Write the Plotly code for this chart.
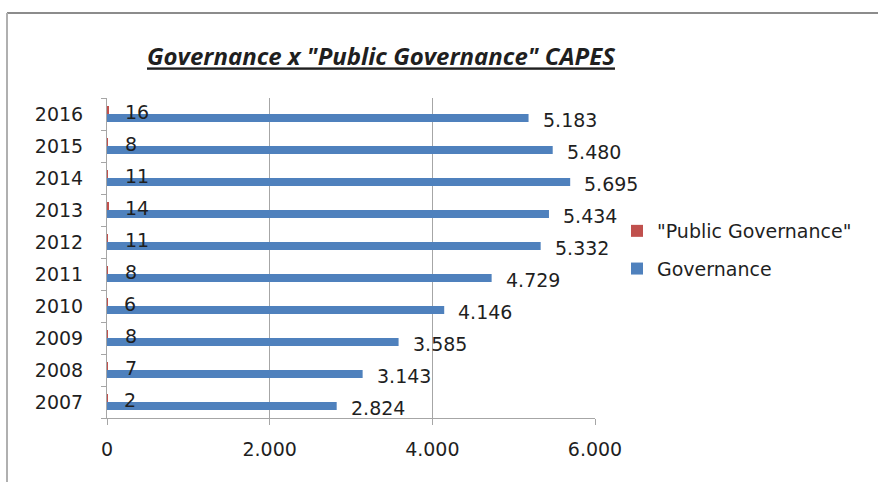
import plotly.graph_objects as go

years = ["2007", "2008", "2009", "2010", "2011", "2012", "2013", "2014", "2015", "2016"]
governance = [2824, 3143, 3585, 4146, 4729, 5332, 5434, 5695, 5480, 5183]
public_governance = [2, 7, 8, 6, 8, 11, 14, 11, 8, 16]
x_ticks = [0, 2000, 4000, 6000]

BLUE = "#4F81BD"
RED = "#C0504D"
TXT = "#1f1f1f"
FONT = "DejaVu Sans"

def fmt(v):
    return f"{v:,}".replace(",", ".")

fig = go.Figure()
fig.add_trace(go.Bar(
    y=years, x=governance, orientation="h", name="Governance",
    marker=dict(color=BLUE, line=dict(width=0)), legendgroup="g", legendrank=2,
))
fig.add_trace(go.Bar(
    y=years, x=public_governance, orientation="h", name='"Public Governance"',
    marker=dict(color=RED, line=dict(width=0)), legendgroup="p", legendrank=1,
))

annotations = []
for i, v in enumerate(governance):
    annotations.append(dict(x=v, y=i, text=fmt(v), showarrow=False, xanchor="left",
                            xshift=12, yshift=-6, font=dict(family=FONT, size=19, color=TXT)))
for i, v in enumerate(public_governance):
    annotations.append(dict(x=v, y=i, text=fmt(v), showarrow=False, xanchor="left",
                            xshift=15, yshift=2, font=dict(family=FONT, size=19, color=TXT)))

fig.update_layout(
    width=878, height=482,
    margin=dict(l=107, r=283, t=98, b=64),
    paper_bgcolor="white", plot_bgcolor="white",
    barmode="group", bargap=0.5, bargroupgap=0,
    separators=",.",
    title=dict(
        text='<b><i><u>Governance x "Public Governance" CAPES</u></i></b>',
        x=381 / 878, xanchor="center", xref="container",
        y=1 - 57 / 482, yanchor="middle", yref="container",
        font=dict(family="Open Sans", size=24, color=TXT),
    ),
    xaxis=dict(
        range=[0, 6000], tickvals=x_ticks, ticktext=[fmt(v) for v in x_ticks],
        showgrid=True, gridcolor="#a6a6a6", gridwidth=1,
        showline=True, linecolor="#a6a6a6", linewidth=1,
        ticks="outside", ticklen=6, tickcolor="#a6a6a6",
        ticklabelstandoff=8, zeroline=False,
        tickfont=dict(family=FONT, size=19, color=TXT),
    ),
    yaxis=dict(
        type="category", categoryorder="array", categoryarray=years,
        range=[-0.5, len(years) - 0.5], autorange=False,
        showgrid=False, showline=True, linecolor="#a6a6a6", linewidth=1,
        ticks="outside", ticklen=5, tickcolor="#a6a6a6", tickson="boundaries",
        ticklabelstandoff=19,
        tickfont=dict(family=FONT, size=19, color=TXT),
    ),
    legend=dict(
        x=(617 - 107) / 488, xanchor="left", y=(418 - 250) / 320, yanchor="middle",
        traceorder="grouped", tracegroupgap=10,
        font=dict(family=FONT, size=19, color=TXT),
        bgcolor="rgba(0,0,0,0)",
    ),
    annotations=annotations,
    shapes=[
        dict(type="line", xref="paper", yref="paper", x0=(7 - 107) / 488, x1=2.0,
             y0=(418 - 13) / 320, y1=(418 - 13) / 320, line=dict(color="#8c8c8c", width=2)),
        dict(type="line", xref="paper", yref="paper", x0=(7 - 107) / 488, x1=(7 - 107) / 488,
             y0=(418 - 13) / 320, y1=-1.0, line=dict(color="#b0b0b0", width=2)),
    ],
)

fig.write_html("out.html")
